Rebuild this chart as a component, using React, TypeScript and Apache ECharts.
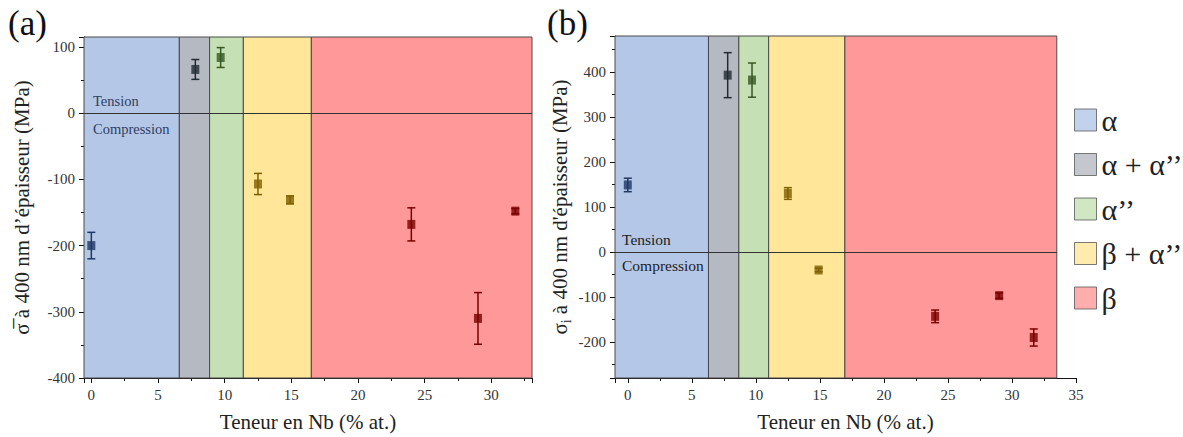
import React, { useEffect, useRef } from "react";
import * as echarts from "echarts";

// Phase categories (legend) and their colours
const phases = ["α", "α + α’’", "α’’", "β + α’’", "β"];
const phaseFill = ["#b4c7e7", "#b5bac2", "#c5e0b4", "#ffe699", "#ff9999"];
const markerColor = ["#1f3864", "#222a35", "#385723", "#7f6000", "#7b0000"];

// Phase boundaries (Nb % at.) for each panel
const boundsA = [-0.55, 6.6, 8.87, 11.4, 16.5, 33.05];
const boundsB = [-1, 6.3, 8.67, 11.0, 16.95, 33.5];

// Panel (a): mean stress
const nbA = [0, 7.8, 9.7, 12.5, 14.9, 24, 29, 31.8];
const stressA = [-200, 66, 84, -107, -131, -168, -310, -148];
const errA = [20, 15, 15, 16, 6, 25, 39, 4];
const phaseOfA = [0, 1, 2, 3, 3, 4, 4, 4];

// Panel (b): intrinsic stress
const nbB = [0, 7.8, 9.7, 12.5, 14.9, 24, 29, 31.7];
const stressB = [149, 393, 382, 130, -40, -143, -97, -190];
const errB = [15, 50, 38, 13, 4, 14, 6, 19];
const phaseOfB = [0, 1, 2, 3, 3, 4, 4, 4];

const FONT = "'Liberation Serif', 'Times New Roman', serif";

function phaseSeries(bounds: number[], gi: number) {
  return phases.map((p, i) => ({
    name: p,
    type: "scatter",
    xAxisIndex: gi,
    yAxisIndex: gi,
    data: [],
    z: 1,
    itemStyle: { color: phaseFill[i] },
    markArea: {
      silent: true,
      label: { show: false },
      itemStyle: { color: phaseFill[i], borderColor: "#4a4a4a", borderWidth: 1 },
      data: [[{ xAxis: bounds[i] }, { xAxis: bounds[i + 1] }]],
    },
  }));
}

function dataSeries(xs: number[], ys: number[], es: number[], ph: number[], gi: number, x0: number, x1: number) {
  const errData = xs.map((x, i) => [x, ys[i], es[i], ph[i]]);
  return [
    {
      type: "custom",
      xAxisIndex: gi,
      yAxisIndex: gi,
      z: 3,
      silent: true,
      data: errData,
      renderItem: (params: any, api: any) => {
        const x = api.value(0);
        const y = api.value(1);
        const e = api.value(2);
        const c = markerColor[api.value(3)];
        const top = api.coord([x, y + e]);
        const bot = api.coord([x, y - e]);
        const w = 4;
        const style = { stroke: c, lineWidth: 1.5 };
        return {
          type: "group",
          children: [
            { type: "line", shape: { x1: top[0], y1: top[1], x2: bot[0], y2: bot[1] }, style },
            { type: "line", shape: { x1: top[0] - w, y1: top[1], x2: top[0] + w, y2: top[1] }, style },
            { type: "line", shape: { x1: bot[0] - w, y1: bot[1], x2: bot[0] + w, y2: bot[1] }, style },
          ],
        };
      },
      markLine: {
        silent: true,
        symbol: "none",
        label: { show: false },
        lineStyle: { color: "#333", width: 1, type: "solid" },
        data: [[{ coord: [x0, 0] }, { coord: [x1, 0] }]],
      },
    },
    {
      type: "scatter",
      xAxisIndex: gi,
      yAxisIndex: gi,
      z: 4,
      symbol: "rect",
      symbolSize: [8, 9],
      data: xs.map((x, i) => ({ value: [x, ys[i]], itemStyle: { color: markerColor[ph[i]] } })),
    },
  ];
}

const axisCommon = {
  axisLine: { show: true, onZero: false, lineStyle: { color: "#111", width: 1 } },
  axisTick: { show: true, inside: false, length: 5, lineStyle: { color: "#111" } },
  minorTick: { show: true, splitNumber: 2, length: 3, lineStyle: { color: "#111" } },
  splitLine: { show: false },
  axisLabel: { fontFamily: FONT, fontSize: 15, color: "#333", showMinLabel: false, showMaxLabel: false },
};

function txt(text: string, x: number, y: number, size: number, fill: string) {
  return {
    type: "text",
    x,
    y,
    z: 10,
    style: { text, fontFamily: FONT, fontSize: size, fill, verticalAlign: "middle" },
  };
}

export default function App() {
  const ref = useRef<HTMLDivElement>(null);
  useEffect(() => {
    const chart = echarts.init(ref.current!, null, { renderer: "svg" });
    const option: any = {
      animation: false,
      backgroundColor: "#ffffff",
      textStyle: { fontFamily: FONT },
      grid: [
        { left: 84, top: 37, width: 448, height: 341 },
        { left: 615, top: 36, width: 461, height: 342 },
      ],
      xAxis: [
        {
          ...axisCommon,
          gridIndex: 0,
          type: "value",
          min: -0.55,
          max: 33.05,
          splitNumber: 7,
          axisLabel: { ...axisCommon.axisLabel, margin: 9 },
          name: "Teneur en Nb (% at.)",
          nameLocation: "middle",
          nameGap: 33,
          nameTextStyle: { fontFamily: FONT, fontSize: 21, color: "#222" },
        },
        {
          ...axisCommon,
          gridIndex: 1,
          type: "value",
          min: -1,
          max: 35,
          splitNumber: 7,
          axisLabel: { ...axisCommon.axisLabel, margin: 9, showMaxLabel: true },
          name: "Teneur en Nb (% at.)",
          nameLocation: "middle",
          nameGap: 33,
          nameTextStyle: { fontFamily: FONT, fontSize: 21, color: "#222" },
        },
      ],
      yAxis: [
        {
          ...axisCommon,
          gridIndex: 0,
          type: "value",
          min: -400,
          max: 115,
          splitNumber: 5,
          axisLabel: { ...axisCommon.axisLabel, margin: 9, showMinLabel: true },
          name: "σ\u0305 à 400 nm d’épaisseur (MPa)",
          nameLocation: "middle",
          nameGap: 52,
          nameTextStyle: { fontFamily: FONT, fontSize: 21, color: "#222" },
        },
        {
          ...axisCommon,
          gridIndex: 1,
          type: "value",
          min: -280,
          max: 480,
          splitNumber: 8,
          axisLabel: { ...axisCommon.axisLabel, margin: 9 },
          name: "σ{sub|i} à 400 nm d'épaisseur (MPa)",
          nameLocation: "middle",
          nameGap: 42,
          nameTextStyle: {
            fontFamily: FONT,
            fontSize: 21,
            color: "#222",
            lineHeight: 26,
            rich: { sub: { fontFamily: FONT, fontSize: 14, color: "#222", verticalAlign: "bottom", lineHeight: 14 } },
          },
        },
      ],
      legend: {
        orient: "vertical",
        left: 1069,
        top: 100,
        data: phases,
        icon: "rect",
        itemWidth: 22,
        itemHeight: 22,
        itemGap: 14.5,
        selectedMode: false,
        itemStyle: { borderColor: "#595959", borderWidth: 1 },
        textStyle: { fontFamily: FONT, fontSize: 30, color: "#222" },
      },
      graphic: [
        { type: "text", left: 8, top: 6, style: { text: "(a)", fontFamily: FONT, fontSize: 35, fill: "#111" } },
        { type: "text", left: 547, top: 6, style: { text: "(b)", fontFamily: FONT, fontSize: 35, fill: "#111" } },
        txt("Tension", 93, 101, 14.5, "#2f3e63"),
        txt("Compression", 93, 129, 14.5, "#2f3e63"),
        txt("Tension", 622, 239, 15.5, "#222"),
        txt("Compression", 622, 265, 15.5, "#222"),
      ],
      series: [
        ...phaseSeries(boundsA, 0),
        ...phaseSeries(boundsB, 1),
        ...dataSeries(nbA, stressA, errA, phaseOfA, 0, boundsA[0], boundsA[5]),
        ...dataSeries(nbB, stressB, errB, phaseOfB, 1, boundsB[0], boundsB[5]),
      ],
    };
    chart.setOption(option);
    return () => chart.dispose();
  }, []);
  return <div ref={ref} style={{ position: "fixed", left: 0, top: 0, width: 1183, height: 437 }} />;
}
